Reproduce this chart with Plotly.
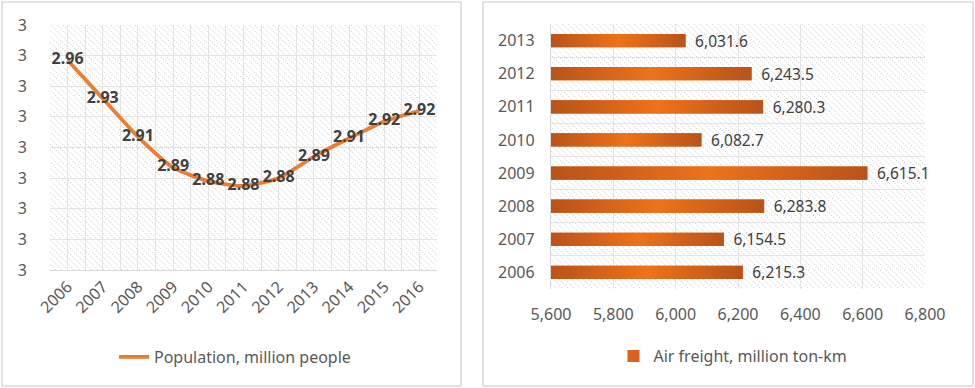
import base64
import plotly.graph_objects as go

# ---- data ----
pop_years = [2006, 2007, 2008, 2009, 2010, 2011, 2012, 2013, 2014, 2015, 2016]
pop_values = [2.957, 2.932, 2.907, 2.887, 2.878, 2.875, 2.880, 2.894, 2.906, 2.917, 2.924]
pop_labels = ["2.96", "2.93", "2.91", "2.89", "2.88", "2.88", "2.88", "2.89", "2.91", "2.92", "2.92"]

freight_years = ["2006", "2007", "2008", "2009", "2010", "2011", "2012", "2013"]
freight_values = [6215.3, 6154.5, 6283.8, 6615.1, 6082.7, 6280.3, 6243.5, 6031.6]

W, H = 975, 388
FONT = "Noto Sans"
GRID = "#e3e3e3"
TXT = "#595959"
BAR_DARK = "#B8531A"
BAR_MID = "#EE7218"
BAR_W = 0.4
X2_MIN, X2_MAX = 5600, 6800


def px(x):
    return x / W


def py(y):
    return 1 - y / H


def hatch_uri(w, h, step=6, color="#d3d3d3"):
    lines = []
    for k in range(-int(h) - step, int(w) + int(h) + step, step):
        lines.append(f'<line x1="{k}" y1="0" x2="{k + h}" y2="{h}" />')
    svg = (f'<svg xmlns="http://www.w3.org/2000/svg" width="{w}" height="{h}" viewBox="0 0 {w} {h}">'
           f'<rect width="{w}" height="{h}" fill="white"/>'
           f'<g stroke="{color}" stroke-width="1" stroke-dasharray="1.5,1.5">' + "".join(lines) + '</g></svg>')
    return "data:image/svg+xml;base64," + base64.b64encode(svg.encode()).decode()


fig = go.Figure()

fig.add_trace(go.Scatter(
    x=pop_years, y=pop_values, mode="lines+text",
    line=dict(color="#ED7D31", width=3.8, shape="spline", smoothing=0.6),
    text=pop_labels, textposition="middle center",
    textfont=dict(family=FONT, size=16, color="#404040", weight="bold"),
    name="Population, million people", xaxis="x", yaxis="y", legend="legend",
    cliponaxis=False,
))

idx = list(range(len(freight_years)))
fig.add_trace(go.Bar(
    x=freight_values, y=idx, orientation="h", width=BAR_W,
    marker=dict(color="#D8641B", line=dict(width=0)),
    texttemplate="\u00a0\u2009%{x:,.1f}",
    textposition="outside", constraintext="none",
    textfont=dict(family=FONT, size=15.5, color="#404040"),
    name="Air freight, million ton-km", xaxis="x2", yaxis="y2", legend="legend2",
    cliponaxis=False,
))
# gradient shading over each bar (derived from the same data)
for i, v in zip(idx, freight_values):
    fig.add_trace(go.Scatter(
        x=[X2_MIN, v, v, X2_MIN, X2_MIN],
        y=[i - BAR_W / 2, i - BAR_W / 2, i + BAR_W / 2, i + BAR_W / 2, i - BAR_W / 2],
        mode="none", fill="toself", showlegend=False, hoverinfo="skip",
        fillgradient=dict(type="horizontal", start=X2_MIN, stop=v,
                          colorscale=[[0, BAR_DARK], [0.5, BAR_MID], [1, BAR_DARK]]),
        xaxis="x2", yaxis="y2",
    ))

L = dict(x0=50, x1=437, y0=25, y1=270)
R = dict(x0=551, x1=925, y0=24, y1=289)

fig.update_layout(
    template="none",
    width=W, height=H, margin=dict(l=0, r=0, t=0, b=0, pad=0, autoexpand=False),
    paper_bgcolor="white", plot_bgcolor="rgba(0,0,0,0)",
    font=dict(family=FONT, size=14, color=TXT),
    xaxis=dict(domain=[px(L["x0"]), px(L["x1"])], range=[2005.5, 2016.5], dtick=1, tick0=2006,
               showgrid=True, gridcolor=GRID, gridwidth=1.3, zeroline=False, automargin=False,
               minor=dict(dtick=0.5, tick0=2005.5, showgrid=True, gridcolor=GRID, gridwidth=1.3),
               tickangle=-45, showline=True, linecolor="#d9d9d9", linewidth=1.3,
               tickfont=dict(size=16, color=TXT), ticks="", ticklabelstandoff=0),
    yaxis=dict(domain=[py(L["y1"]), py(L["y0"])], range=[2.82, 2.98], dtick=0.02, tick0=2.82,
               tickformat=".0f", showgrid=True, gridcolor=GRID, gridwidth=1.3, zeroline=False,
               automargin=False, showline=False,
               tickfont=dict(size=16, color=TXT), ticklabelstandoff=22, ticks=""),
    xaxis2=dict(domain=[px(R["x0"]), px(R["x1"])], range=[X2_MIN, X2_MAX], dtick=200, tick0=X2_MIN,
                tickformat=",", showgrid=True, gridcolor=GRID, gridwidth=1.3, zeroline=False,
                automargin=False, showline=False,
                tickfont=dict(size=16, color=TXT), ticks="", anchor="y2", ticklabelstandoff=14),
    yaxis2=dict(domain=[py(R["y1"]), py(R["y0"])], range=[-0.5, 7.5],
                tickvals=idx, ticktext=freight_years, showgrid=False, zeroline=False,
                minor=dict(tick0=-0.5, dtick=1, showgrid=True, gridcolor=GRID, gridwidth=1.3),
                showline=True, linecolor="#d9d9d9", linewidth=1.3, automargin=False,
                tickfont=dict(size=16, color=TXT), ticks="", anchor="x2", ticklabelstandoff=12),
    legend=dict(orientation="h", x=px(235), y=py(357), xanchor="center", yanchor="middle",
                font=dict(family=FONT, size=16, color=TXT), bgcolor="rgba(0,0,0,0)"),
    legend2=dict(orientation="h", x=px(733), y=py(356), xanchor="center", yanchor="middle",
                 font=dict(family=FONT, size=16, color=TXT), bgcolor="rgba(0,0,0,0)"),
    showlegend=True,
)

# hatched plot-area backgrounds
for xr, yr, box in (("x domain", "y domain", L), ("x2 domain", "y2 domain", R)):
    w = box["x1"] - box["x0"]
    h = box["y1"] - box["y0"]
    fig.add_layout_image(dict(source=hatch_uri(w, h), xref=xr, yref=yr, x=0, y=1,
                              sizex=1, sizey=1, xanchor="left", yanchor="top",
                              sizing="stretch", layer="below"))

# panel borders
fig.add_shape(type="rect", xref="paper", yref="paper", x0=px(2), x1=px(461), y0=py(386), y1=py(2),
              line=dict(color="#d9d9d9", width=1.5))
fig.add_shape(type="rect", xref="paper", yref="paper", x0=px(483), x1=px(973), y0=py(386), y1=py(2),
              line=dict(color="#d9d9d9", width=1.5))

fig.write_html("out.html", config={"displayModeBar": False},
               post_script="document.body.style.margin='0';document.body.style.padding='0';")
